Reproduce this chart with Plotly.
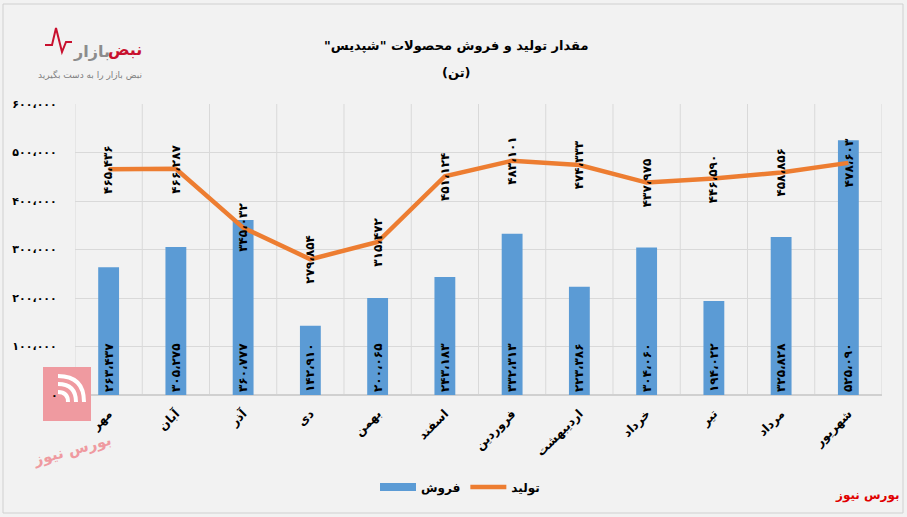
import plotly.graph_objects as go

months = ["مهر", "آبان", "آذر", "دی", "بهمن", "اسفند", "فروردین", "اردیبهشت", "خرداد", "تیر", "مرداد", "شهریور"]
sales = [263437, 305275, 360777, 142910, 200065, 243183, 332313, 223386, 304060, 194022, 325828, 525090]
production = [465436, 466287, 345032, 279854, 315472, 451124, 483101, 474333, 437975, 446590, 458856, 478603]
y_ticks = [0, 100000, 200000, 300000, 400000, 500000, 600000]

FA = str.maketrans("0123456789,", "۰۱۲۳۴۵۶۷۸۹،")


def fa(n):
    return f"{n:,}".translate(FA)


W, H = 907, 517
L, R, T, B = 75, 25, 104, 122
PW, PH = W - L - R, H - T - B


def px(x):
    return (x - L) / PW


def py(y):
    return (H - B - y) / PH


FONT = "DejaVu Sans"
BLUE = "#5b9bd5"
ORANGE = "#ed7d31"
PINK = "#ef9aa0"
RLM = "\u200F"

fig = go.Figure()

fig.add_trace(go.Bar(
    x=list(range(len(months))), y=sales, name="فروش", showlegend=False,
    marker=dict(color=BLUE, line=dict(width=0)),
    width=0.31,
    text=[fa(v) for v in sales],
    textposition="inside", insidetextanchor="start", textangle=-90,
    constraintext="none",
    textfont=dict(family=FONT, size=12, color="black", weight="bold"),
    hoverinfo="skip",
))

# legend stand-in for the bar series (wide blue swatch as in the reference)
fig.add_trace(go.Scatter(
    x=[None], y=[None], name="فروش", mode="lines",
    line=dict(color=BLUE, width=8), hoverinfo="skip",
))

fig.add_trace(go.Scatter(
    x=list(range(len(months))), y=production, name="تولید", mode="lines",
    line=dict(color=ORANGE, width=4.5),
    hoverinfo="skip",
))

for i, v in enumerate(production):
    fig.add_annotation(x=i, y=v, xref="x", yref="y", text=fa(v), textangle=-90,
                       showarrow=False, xanchor="center", yanchor="middle",
                       font=dict(family=FONT, size=12, color="black", weight="bold"))

# vertical category-boundary gridlines
for i in range(len(months) + 1):
    fig.add_shape(type="line", xref="x", yref="y", x0=i - 0.5, x1=i - 0.5,
                  y0=0, y1=y_ticks[-1], line=dict(color="#d9d9d9", width=1), layer="below")

# titles
fig.add_annotation(x=px(456), y=py(36), xref="paper", yref="paper",
                   text=RLM + 'مقدار تولید و فروش محصولات "شپدیس"' + RLM, showarrow=False,
                   font=dict(family=FONT, size=13, color="black", weight="bold"))
fig.add_annotation(x=px(456), y=py(63), xref="paper", yref="paper",
                   text=RLM + "(تن)" + RLM, showarrow=False,
                   font=dict(family=FONT, size=13, color="black", weight="bold"))

# top-left logo (approximate)
fig.add_annotation(x=px(144), y=py(38), xref="paper", yref="paper", text="نبض",
                   showarrow=False, xanchor="right",
                   font=dict(family=FONT, size=16, color="#c8102e", weight="bold"))
fig.add_annotation(x=px(112), y=py(40), xref="paper", yref="paper", text="بازار",
                   showarrow=False, xanchor="right",
                   font=dict(family=FONT, size=16, color="#8c8c8c", weight="bold"))
fig.add_shape(type="path", xref="paper", yref="paper",
              path=f"M {px(45)},{py(45)} L {px(52)},{py(45)} L {px(56)},{py(28)} L {px(62)},{py(52)} L {px(66)},{py(42)} L {px(72)},{py(42)}",
              line=dict(color="#c8102e", width=2))
fig.add_annotation(x=px(144), y=py(67), xref="paper", yref="paper",
                   text="نبض بازار را به دست بگیرید", showarrow=False, xanchor="right",
                   font=dict(family=FONT, size=9, color="#7f7f7f"))

# bottom-left watermark (approximate)
fig.add_shape(type="rect", xref="paper", yref="paper",
              x0=px(43), x1=px(91), y0=py(421), y1=py(367),
              fillcolor=PINK, line=dict(width=0), layer="above")
for r_ in (10, 18, 26):
    fig.add_shape(type="path", xref="paper", yref="paper",
                  path=f"M {px(58)},{py(402 - r_)} Q {px(58 + r_)},{py(402 - r_)} {px(58 + r_)},{py(402)}",
                  line=dict(color="white", width=4), layer="above")
fig.add_annotation(x=px(72), y=py(450), xref="paper", yref="paper", text="بورس نیوز",
                   showarrow=False, textangle=-15, xanchor="center", yanchor="middle",
                   font=dict(family=FONT, size=15, color=PINK, weight="bold"))
# zero tick label drawn above the watermark
fig.add_annotation(x=px(60), y=0, xref="paper", yref="y", text=fa(y_ticks[0]),
                   showarrow=False, xanchor="right", yanchor="middle",
                   font=dict(family=FONT, size=11, color="black", weight="bold"))

# bottom-right brand
fig.add_annotation(x=px(902), y=py(505), xref="paper", yref="paper", text="بورس نیوز",
                   showarrow=False, xanchor="right",
                   font=dict(family=FONT, size=12, color="#e00000", weight="bold"))

# outer frame
fig.add_shape(type="rect", xref="paper", yref="paper",
              x0=px(3), x1=px(903), y0=py(513), y1=py(4),
              line=dict(color="#d0d0d0", width=1), layer="below")

fig.update_layout(
    width=W, height=H,
    margin=dict(l=L, r=R, t=T, b=B),
    paper_bgcolor="#f2f2f2", plot_bgcolor="#f2f2f2",
    font=dict(family=FONT, color="black"),
    showlegend=True,
    legend=dict(orientation="h", x=px(460), y=py(487), xanchor="center", yanchor="middle",
                font=dict(family=FONT, size=12, color="black", weight="bold"),
                bgcolor="rgba(0,0,0,0)", itemwidth=36, tracegroupgap=0),
    xaxis=dict(
        tickmode="array", tickvals=list(range(len(months))), ticktext=months,
        tickangle=-45, range=[-0.5, len(months) - 0.5],
        showgrid=False, zeroline=False, showline=False,
        tickfont=dict(family=FONT, size=12, color="black", weight="bold"),
        ticks="outside", ticklen=6, tickcolor="rgba(0,0,0,0)",
    ),
    yaxis=dict(
        range=[0, y_ticks[-1]], tickmode="array", tickvals=y_ticks,
        ticktext=[""] + [fa(v) for v in y_ticks[1:]],
        showgrid=True, gridcolor="#d9d9d9", gridwidth=1,
        zeroline=True, zerolinecolor="#d0d0d0", zerolinewidth=2,
        tickfont=dict(family=FONT, size=11, color="black", weight="bold"),
        ticks="outside", ticklen=15, tickcolor="rgba(0,0,0,0)",
    ),
    bargap=0.6,
)

fig.write_html("out.html")
